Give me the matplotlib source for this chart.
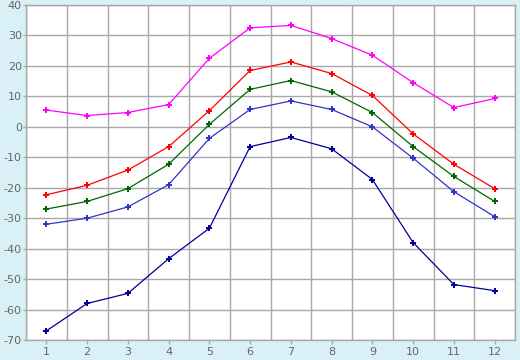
import matplotlib
matplotlib.use("Agg")
import matplotlib.pyplot as plt
import numpy as np

plt.rcParams["axes.unicode_minus"] = False

months = [1, 2, 3, 4, 5, 6, 7, 8, 9, 10, 11, 12]
s_max = [5.5, 3.7, 4.7, 7.3, 22.5, 32.5, 33.3, 29.0, 23.5, 14.5, 6.3, 9.3]
s_high = [-22.3, -19.2, -14.2, -6.5, 5.3, 18.5, 21.3, 17.5, 10.3, -2.3, -12.3, -20.3]
s_mean = [-27.0, -24.5, -20.3, -12.3, 0.8, 12.3, 15.2, 11.5, 4.7, -6.5, -16.3, -24.5]
s_low = [-32.0, -30.0, -26.3, -19.0, -3.8, 5.7, 8.5, 5.7, 0.0, -10.3, -21.3, -29.5]
s_min = [-67.0, -58.0, -54.7, -43.3, -33.3, -6.5, -3.5, -7.2, -17.3, -38.0, -51.8, -53.8]

series = [
    (s_max, "#ff00ff"),
    (s_high, "#ff0000"),
    (s_mean, "#006600"),
    (s_low, "#3333cc"),
    (s_min, "#000099"),
]

bg = "#daf0f7"
fig = plt.figure(figsize=(5.2, 3.6), dpi=100, facecolor=bg)
ax = fig.add_axes([26/520, 20/360, 489/520, 335/360])
ax.set_facecolor("white")

for vals, c in series:
    ax.plot(months, vals, color=c, lw=0.9, marker="P", ms=4.5, mec=c, mfc=c, mew=0, zorder=3)

ax.set_xlim(0.5, 12.5)
ax.set_ylim(-70, 40)
ax.set_xticks(months)
ax.set_xticks(np.arange(0.5, 12.6, 1), minor=True)
ax.set_yticks(np.arange(-70, 41, 10))
ax.grid(True, which="minor", axis="x", color="#a8a8a8", lw=1)
ax.grid(True, which="major", axis="y", color="#a8a8a8", lw=1)
ax.tick_params(axis="x", which="minor", length=0)
ax.tick_params(axis="both", which="major", colors="#a8a8a8", labelcolor="#666666",
               labelsize=8, width=1)
ax.tick_params(axis="x", which="major", length=3, pad=2)
ax.tick_params(axis="y", which="major", length=2, pad=1)
for sp in ax.spines.values():
    sp.set_color("#a8a8a8")
    sp.set_linewidth(1)

fig.savefig("out.png", dpi=100, facecolor=bg)
